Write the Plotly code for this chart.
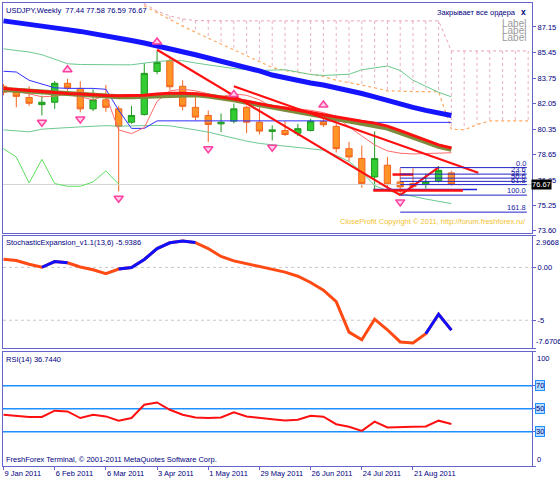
import plotly.graph_objects as go

# ---------------- data ----------------
TICK_BARS = [0, 4, 8, 12, 16, 20, 24, 28, 32]
TICK_LABELS = ["9 Jan 2011", "6 Feb 2011", "6 Mar 2011", "3 Apr 2011", "1 May 2011",
               "29 May 2011", "26 Jun 2011", "24 Jul 2011", "21 Aug 2011"]

OPEN = [83.20, 82.80, 82.45, 81.98, 82.14, 83.40, 83.06, 81.70, 82.30, 81.70,
        80.81, 81.32, 84.19, 84.90, 83.20, 81.80, 81.26, 80.70, 80.88, 81.80,
        80.81, 80.20, 80.26, 80.08, 80.26, 80.86, 80.53, 79.05, 78.40, 77.17,
        77.95, 76.84, 76.73, 76.69, 76.91, 77.44]
HIGH = [83.35, 83.10, 83.20, 82.58, 83.55, 83.70, 83.53, 83.00, 83.29, 81.90,
        81.90, 84.72, 85.55, 85.05, 83.60, 82.47, 81.59, 81.39, 82.05, 81.90,
        81.80, 80.60, 80.90, 80.70, 81.05, 81.35, 80.70, 79.50, 79.25, 80.20,
        78.50, 77.75, 77.75, 77.40, 77.90, 77.58]
LOW = [82.60, 81.80, 81.90, 81.26, 81.70, 82.90, 81.47, 81.55, 81.50, 76.20,
       80.70, 81.26, 84.00, 82.96, 81.60, 80.93, 79.49, 80.15, 80.73, 80.08,
       80.00, 79.60, 79.90, 79.90, 80.20, 80.50, 78.80, 78.20, 76.45, 76.24,
       76.50, 75.96, 76.40, 76.40, 76.80, 76.59]
CLOSE = [82.80, 82.53, 82.07, 82.14, 83.40, 83.09, 81.70, 82.30, 81.80, 80.53,
         81.26, 84.06, 84.79, 83.17, 81.87, 81.15, 80.66, 80.81, 81.70, 80.81,
         80.22, 80.30, 79.99, 80.38, 80.88, 80.64, 79.05, 78.50, 76.73, 78.39,
         76.69, 76.51, 76.55, 76.84, 77.61, 76.67]

MA_SLOW = [87.55, 87.45, 87.35, 87.25, 87.12, 86.97, 86.85, 86.72, 86.58, 86.42,
           86.25, 86.08, 85.90, 85.72, 85.52, 85.30, 85.08, 84.88, 84.68, 84.45,
           84.22, 83.95, 83.75, 83.58, 83.42, 83.28, 83.12, 82.92, 82.72, 82.50,
           82.25, 82.02, 81.80, 81.60, 81.42, 81.26]
MA_MID = [83.05, 82.98, 82.90, 82.82, 82.77, 82.72, 82.68, 82.62, 82.58, 82.57,
          82.58, 82.60, 82.68, 82.73, 82.73, 82.70, 82.60, 82.50, 82.36, 82.20,
          82.03, 81.88, 81.75, 81.62, 81.45, 81.30, 81.15, 81.00, 80.87, 80.75,
          80.55, 80.25, 79.92, 79.58, 79.30, 79.10]
MA_MID2 = [82.98, 82.92, 82.85, 82.78, 82.72, 82.68, 82.63, 82.58, 82.53, 82.50,
           82.50, 82.52, 82.58, 82.64, 82.66, 82.64, 82.55, 82.44, 82.30, 82.13,
           81.96, 81.80, 81.66, 81.53, 81.36, 81.20, 81.05, 80.90, 80.76, 80.64,
           80.42, 80.12, 79.80, 79.47, 79.20, 79.00]
BAND_UP = [85.69, 85.60, 85.48, 85.30, 85.00, 84.70, 84.65, 84.63, 84.63, 84.63,
           84.63, 84.75, 84.85, 84.90, 84.90, 84.75, 84.60, 84.50, 84.38, 84.30,
           84.25, 84.28, 84.30, 84.15, 83.98, 83.92, 83.95, 84.00, 84.30, 84.45,
           84.55, 84.25, 83.60, 83.20, 82.80, 82.50]
BAND_LOW = [80.30, 80.22, 80.17, 80.35, 80.42, 80.45, 80.50, 80.55, 80.58, 80.55,
            80.58, 80.60, 80.60, 80.57, 80.45, 80.30, 80.15, 79.95, 79.72, 79.55,
            79.40, 79.30, 79.20, 79.10, 79.05, 78.95, 78.60, 78.20, 77.50, 76.60,
            76.25, 76.05, 75.85, 75.70, 75.55, 75.40]
CHANNEL_BLUE = [84.20, 84.15, 83.60, 83.35, 83.10, 83.06, 83.06, 83.06, 83.00, 81.60,
                80.40, 80.40, 80.90, 80.90, 80.90, 80.90, 80.90, 80.90, 80.90, 80.90,
                80.90, 80.90, 80.90, 80.90, 80.90, 80.90, 80.90, 80.90, 80.90, 80.80,
                80.80, 80.80, 80.80, 80.80, 80.80, 80.80]
THIN_RED = [82.90, 82.85, 82.70, 82.50, 82.55, 82.65, 82.50, 82.30, 82.60, 80.30,
            80.05, 80.45, 82.20, 82.90, 83.00, 82.90, 82.70, 82.50, 82.70, 82.60,
            82.30, 81.80, 81.70, 81.70, 81.60, 81.45, 81.20, 80.50, 79.90, 79.30,
            78.90, 78.75, 78.70, 78.72, 78.75, 78.78]
ZIGZAG_GREEN = [79.05, 78.49, 76.77, 78.34, 76.73, 76.55, 76.55, 76.84, 77.57, 76.69]

CLOUD_BARS = [11, 12, 13, 14, 15, 16, 17, 18, 19, 20, 21, 22, 23, 24, 25, 26,
              27, 28, 29, 30, 31, 32, 33, 34, 35, 36, 37, 38, 39, 40, 41]
CLOUD_TOP = [88.70, 88.20, 87.88, 87.68, 87.57, 87.55, 87.55, 87.55, 87.55, 87.55,
             87.55, 87.55, 87.55, 87.55, 87.55, 87.55, 87.55, 87.55, 87.55, 87.55,
             87.55, 87.55, 87.55, 87.55, 85.55, 85.55, 85.55, 85.55, 85.55, 85.55, 85.55]
CLOUD_BOTTOM = [88.55, 88.10, 87.60, 87.20, 86.80, 86.40, 86.00, 85.60, 85.20, 84.85,
                84.45, 84.25, 84.15, 84.00, 83.85, 83.60, 83.45, 83.30, 83.10, 82.90,
                82.85, 82.85, 82.85, 82.85, 80.35, 80.30, 80.65, 80.90, 80.90, 80.90, 80.90]

FRACTAL_UP = [5, 12, 18, 25]
FRACTAL_DOWN = [3, 6, 9, 16, 21, 31]

# drawn objects: (bar0, price0, bar1, price1)
TREND_LINES = [(12, 85.63, 31, 75.96), (18, 83.20, 37.1, 77.45), (31, 75.96, 34, 77.80)]
RED_LEVELS = [(28.9, 35.9, 76.27), (30.4, 32.0, 77.33)]
BLUE_LEVELS = [(28.9, 37.0, 76.33)]
FIB_HIGH, FIB_LOW = 77.79, 75.96
FIB_LEVELS = [0.0, 23.6, 38.2, 50.0, 61.8, 100.0, 161.8]
FIB_SPAN = (31, 40.9)

MAIN_TICKS = [87.15, 85.45, 83.75, 82.05, 80.35, 78.65, 76.95, 75.25, 73.60]

STOCH = [0.77, 0.64, 0.29, 0.01, 0.55, 0.43, 0.03, -0.22, -0.59, -0.16,
         -0.01, 0.75, 1.77, 2.32, 2.49, 2.34, 1.78, 1.03, 0.61, 0.33,
         0.10, -0.18, -0.45, -0.84, -1.43, -2.15, -3.24, -6.12, -6.84, -4.90,
         -5.90, -7.05, -7.15, -6.28, -4.43, -5.94]
STOCH_BLUE_RANGES = [(3, 5), (9, 15), (33, 35)]
STOCH_LEVELS = [0, -5]
STOCH_MAX, STOCH_MIN = 2.9668, -7.6706

RSI = [44.8, 43.9, 42.8, 42.8, 48.3, 47.7, 41.9, 44.8, 43.3, 39.6,
       41.9, 53.5, 55.5, 49.1, 44.8, 42.4, 41.9, 42.4, 46.8, 43.3,
       41.9, 40.9, 39.8, 40.4, 43.9, 43.0, 36.5, 34.3, 30.7, 38.7,
       33.7, 33.7, 34.2, 34.5, 39.6, 36.74]
RSI_LEVELS = [70, 50, 30]

# ---------------- style ----------------
AXIS_COLOR = "#6464cc"
TEXT_COLOR = "#000080"
FONT = "Liberation Sans"
FS = 7.5
XR = [-0.04, 41.3]
X = list(range(len(CLOSE)))

fig = go.Figure()


def line(x, y, color, width=1, dash=None, ax="y"):
    fig.add_trace(go.Scatter(x=x, y=y, mode="lines", xaxis="x" if ax == "y" else "x" + ax[1:],
                             yaxis=ax, line=dict(color=color, width=width, dash=dash),
                             hoverinfo="skip", showlegend=False))


# bid line
line(XR, [CLOSE[-1], CLOSE[-1]], "#d4d4d4", 1)

# ichimoku-like cloud hatch
hx, hy = [], []
for b, t, btm in zip(CLOUD_BARS, CLOUD_TOP, CLOUD_BOTTOM):
    hx += [b, b, None]
    hy += [t, btm, None]
line(hx, hy, "#eab0c0", 1, "dot")
line(CLOUD_BARS, CLOUD_TOP, "#e9a0b4", 1, "dot")
line(CLOUD_BARS, CLOUD_BOTTOM, "#ffa860", 1.2, "dot")

# bands and thin lines
line(X, BAND_UP, "#6cc890", 1)
line(X, BAND_LOW, "#6cc890", 1)
line(X[:len(ZIGZAG_GREEN)], ZIGZAG_GREEN, "#5ee05e", 1)
line(X, CHANNEL_BLUE, "#3030ff", 1)
line(X, THIN_RED, "#ff6a6a", 1)

# candles
fig.add_trace(go.Candlestick(
    x=X, open=OPEN, high=HIGH, low=LOW, close=CLOSE, xaxis="x", yaxis="y",
    increasing=dict(line=dict(color="#1f9a1f", width=1), fillcolor="#33cc33"),
    decreasing=dict(line=dict(color="#f26522", width=1), fillcolor="#ff9326"),
    whiskerwidth=0, hoverinfo="skip", showlegend=False))

# moving averages
line(X, MA_SLOW, "#1414ff", 5)
line(X, MA_MID2, "#7d8c3c", 5)
line(X, MA_MID, "#ff1010", 3)

# trend lines
tx, ty = [], []
for b0, p0, b1, p1 in TREND_LINES:
    tx += [b0, b1, None]
    ty += [p0, p1, None]
line(tx, ty, "#ff1010", 2.2)
for b0, b1, p in BLUE_LEVELS:
    line([b0, b1], [p, p], "#2020e0", 1.5)
for b0, b1, p in RED_LEVELS:
    line([b0, b1], [p, p], "#ff1010", 2.5)

# fibonacci
fx, fy = [], []
fib_prices = [FIB_HIGH - lv / 100.0 * (FIB_HIGH - FIB_LOW) for lv in FIB_LEVELS]
for p in fib_prices:
    fx += [FIB_SPAN[0], FIB_SPAN[1], None]
    fy += [p, p, None]
line(fx, fy, "#2222c8", 1)

# fractals
fig.add_trace(go.Scatter(x=FRACTAL_UP, y=[HIGH[i] + 0.6 for i in FRACTAL_UP], mode="markers",
                         marker=dict(symbol="triangle-up", size=8, color="#ffd0e8",
                                     line=dict(color="#ff40a0", width=1.5)),
                         hoverinfo="skip", showlegend=False))
fig.add_trace(go.Scatter(x=FRACTAL_DOWN, y=[LOW[i] - 0.45 for i in FRACTAL_DOWN], mode="markers",
                         marker=dict(symbol="triangle-down", size=8, color="#ffd0e8",
                                     line=dict(color="#ff40a0", width=1.5)),
                         hoverinfo="skip", showlegend=False))

# stochastic panel
for lv in STOCH_LEVELS:
    line(XR, [lv, lv], "#c8c8c8", 1, "dot", "y2")
line(X, STOCH, "#ff4a14", 3, None, "y2")
for a, b in STOCH_BLUE_RANGES:
    line(X[a:b + 1], STOCH[a:b + 1], "#1010ff", 3, None, "y2")

# RSI panel
for lv in RSI_LEVELS:
    line(XR, [lv, lv], "#1e90ff", 1.5, None, "y3")
line(X, RSI, "#ff1010", 2, None, "y3")

# ---------------- annotations ----------------
ann = []


def text(t, x, y, xref, yref, xanchor, yanchor, color=TEXT_COLOR, size=FS, xshift=0, yshift=0, **kw):
    ann.append(dict(text=t, x=x, y=y, xref=xref, yref=yref, xanchor=xanchor, yanchor=yanchor,
                    showarrow=False, font=dict(family=FONT, size=size, color=color),
                    xshift=xshift, yshift=yshift, borderpad=0, **kw))


text("USDJPY,Weekly  %.2f %.2f %.2f %.2f" % (OPEN[-1], HIGH[-1], LOW[-1], CLOSE[-1]),
     0, 1, "paper", "y domain", "left", "top", xshift=2, yshift=-2)
text("Закрывает все ордера", 0.972, 1, "paper", "y domain", "right", "top", yshift=-4)
text("<b>x</b>", 0.99, 1, "paper", "y domain", "right", "top", size=8.5, yshift=-3)
for k, sh in enumerate([-20, -27, -34]):
    text("Label", 0.991, 1, "paper", "y domain", "right", "middle", color="#9a9a9a", size=10, yshift=sh)
text("CloseProfit Copyright © 2011, http://forum.freshforex.ru/", 0.991, 0, "paper", "y domain",
     "right", "bottom", color="#f2c230", yshift=6)
for lv, p in zip(FIB_LEVELS, fib_prices):
    text("%.1f" % lv, FIB_SPAN[1], p, "x", "y", "right", "bottom", color="#1a1aa0", yshift=-1)
text("%.2f" % CLOSE[-1], 1, CLOSE[-1], "paper", "y", "left", "middle", color="white",
     xshift=-1, bgcolor="black")
text("StochasticExpansion_v1.1(13,6) %.4f" % -5.9386, 0, 1, "paper", "y2 domain", "left", "top",
     xshift=2, yshift=-1)
text("%.4f" % STOCH_MAX, 1, 1, "paper", "y2 domain", "left", "top", xshift=3, yshift=-1)
text("%.4f" % STOCH_MIN, 1, 0, "paper", "y2 domain", "left", "bottom", xshift=3, yshift=1)
text("RSI(14) %.4f" % 36.744, 0, 1, "paper", "y3 domain", "left", "top", xshift=2, yshift=-2)
text("FreshForex Terminal, © 2001-2011 MetaQuotes Software Corp.", 0, 0, "paper", "y3 domain",
     "left", "bottom", xshift=2, yshift=1)
text("100", 1, 1, "paper", "y3 domain", "left", "top", xshift=4, yshift=-1)
text("0", 1, 0, "paper", "y3 domain", "left", "bottom", xshift=4, yshift=1)
for lv in RSI_LEVELS:
    text(str(lv), 1, lv, "paper", "y3", "left", "middle", xshift=3,
         bgcolor="#b4dcff", bordercolor="#1e90ff", borderwidth=1)

ax_common = dict(showgrid=False, zeroline=False, showline=True, mirror=True,
                 linecolor=AXIS_COLOR, linewidth=1, fixedrange=True)
yfont = dict(family=FONT, size=FS, color=TEXT_COLOR)

fig.update_layout(
    width=560, height=480,
    margin=dict(l=2, r=28, t=2, b=13),
    paper_bgcolor="white", plot_bgcolor="white",
    showlegend=False, boxgap=0.3,
    font=dict(family=FONT, size=FS, color=TEXT_COLOR),
    annotations=ann,
    xaxis=dict(domain=[0, 1], anchor="y", range=XR, showticklabels=False, ticks="",
               rangeslider=dict(visible=False), **ax_common),
    xaxis2=dict(domain=[0, 1], anchor="y2", matches="x", showticklabels=False, ticks="", **ax_common),
    xaxis3=dict(domain=[0, 1], anchor="y3", matches="x", tickmode="array", tickvals=TICK_BARS,
                ticktext=TICK_LABELS, ticks="outside", ticklen=3, tickcolor=AXIS_COLOR,
                ticklabelposition="outside right", tickfont=yfont, **ax_common),
    yaxis=dict(domain=[0.5032, 1], anchor="x", range=[73.44, 88.74], side="right",
               tickmode="array", tickvals=MAIN_TICKS, ticktext=["%.2f" % v for v in MAIN_TICKS],
               ticks="outside", ticklen=3, tickcolor=AXIS_COLOR, tickfont=yfont, **ax_common),
    yaxis2=dict(domain=[0.2538, 0.4968], anchor="x2", range=[STOCH_MIN, STOCH_MAX], side="right",
                tickmode="array", tickvals=[STOCH_MAX, 0, -5, STOCH_MIN], ticktext=["", "0.00", "-5", ""],
                ticks="outside", ticklen=3, tickcolor=AXIS_COLOR, tickfont=yfont, **ax_common),
    yaxis3=dict(domain=[0, 0.2473], anchor="x3", range=[0, 100], side="right",
                tickmode="array", tickvals=[100, 70, 50, 30, 0], showticklabels=False,
                ticks="outside", ticklen=3, tickcolor=AXIS_COLOR, **ax_common),
)

fig.write_html("out.html", config={"displayModeBar": False},
               post_script="document.body.style.margin='0';document.body.style.overflow='hidden';")
